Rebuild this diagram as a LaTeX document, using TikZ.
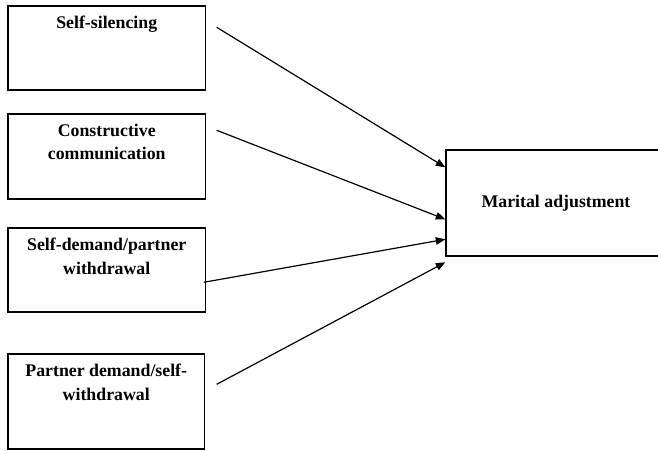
\documentclass[tikz,border=0pt]{standalone}
\usepackage{fontspec}
\setmainfont{Liberation Serif}
\usetikzlibrary{arrows.meta,calc}
\begin{document}
\begin{tikzpicture}[x=1pt,y=-1pt,
  box/.style={draw=black,line width=1.4pt,inner sep=0pt,minimum width=197.5pt},
  lbl/.style={font=\fontsize{17.8pt}{23.5pt}\selectfont\bfseries,align=center,inner sep=0pt,anchor=north},
  conn/.style={line width=1.2pt,-{Triangle[length=9.5pt,width=7.5pt]}}]
\useasboundingbox (0,0) rectangle (658,450);
% predictor boxes
\node[box,minimum height=84pt] (b1) at (106.75,48) {};
\node[box,minimum height=85pt] (b2) at (106.75,156.5) {};
\node[box,minimum height=84pt] (b3) at (106.75,270) {};
\node[box,minimum height=95pt,minimum width=196.5pt] (b4) at (106.25,401.5) {};
% labels
\node[lbl] (t1) at ($(b1.north)+(0,10.5)$) {Self-silencing};
\node[lbl] (t2) at ($(b2.north)+(0,10.5)$) {Constructive\\communication};
\node[lbl] (t3) at ($(b3.north)+(0,10.5)$) {Self-demand/partner\\withdrawal};
\node[lbl] (t4) at ($(b4.north)+(0,10.5)$) {Partner demand/self-\\withdrawal};
% outcome
\node[box,minimum width=220pt,minimum height=106pt] (m) at (556,203) {};
\node[lbl,anchor=center] (tm) at (556,203) {Marital adjustment};
% connector points
\coordinate (s1) at ($(b1.north east)+(10.5,22)$);
\coordinate (s2) at ($(b2.north east)+(10.5,17)$);
\coordinate (s3) at ($(b3.north east)+(-2.5,55)$);
\coordinate (s4) at ($(b4.north east)+(11.5,31)$);
\coordinate (e1) at ($(m.north west)+(0,18)$);
\coordinate (e2) at ($(m.north west)+(0,70)$);
\coordinate (e3) at ($(m.north west)+(0,90)$);
\coordinate (e4) at ($(m.north west)+(0,113)$);
\draw[conn] (s1) -- (e1);
\draw[conn] (s2) -- (e2);
\draw[conn] (s3) -- (e3);
\draw[conn] (s4) -- (e4);
\end{tikzpicture}
\end{document}
